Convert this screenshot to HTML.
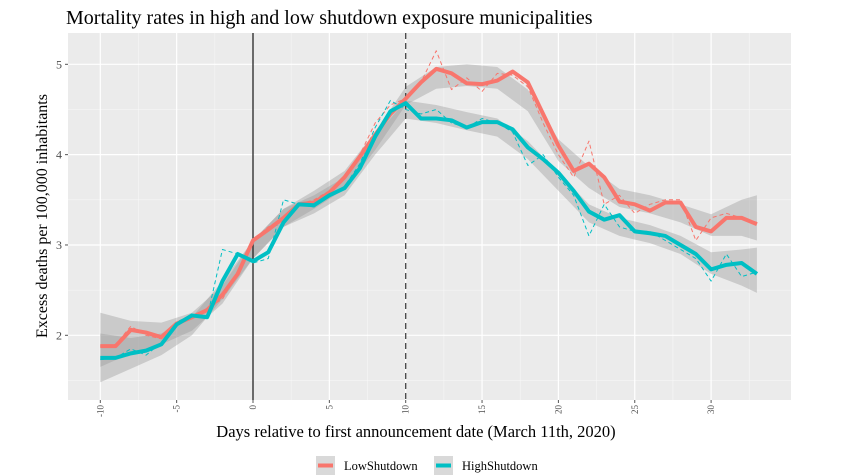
<!DOCTYPE html>
<html><head><meta charset="utf-8"><style>
body{margin:0;background:#fff;}
svg{display:block;font-family:"Liberation Serif",serif;}
</style></head><body>
<svg id="chart" width="848" height="476">
<text x="66" y="24" font-size="20" fill="#000">Mortality rates in high and low shutdown exposure municipalities</text>
<rect x="68" y="33" width="723" height="367" fill="#ebebeb"/>
<g id="grid"></g><g id="ribbons"></g><g id="lines"></g><g id="axes"></g>
<text x="416" y="437" font-size="16.5" text-anchor="middle">Days relative to first announcement date (March 11th, 2020)</text>
<text transform="translate(47,216) rotate(-90)" font-size="16" text-anchor="middle">Excess deaths per 100,000 inhabitants</text>
<g>
<g><rect x="316" y="456" width="19" height="19" fill="#d9d9d9"/><line x1="318" y1="465.5" x2="333" y2="465.5" stroke="#f8766d" stroke-width="4"/><text x="344" y="470" font-size="12.5">LowShutdown</text></g>
<g><rect x="434" y="456" width="19" height="19" fill="#d9d9d9"/><line x1="436" y1="465.5" x2="451" y2="465.5" stroke="#00bfc4" stroke-width="4"/><text x="462" y="470" font-size="12.5">HighShutdown</text></g>
</g>
</svg>
<script>
const days=[-10,-9,-8,-7,-6,-5,-4,-3,-2,-1,0,1,2,3,4,5,6,7,8,9,10,11,12,13,14,15,16,17,18,19,20,21,22,23,24,25,26,27,28,29,30,31,32,33];
const lowSmooth=[1.88,1.88,2.06,2.03,1.98,2.13,2.2,2.28,2.45,2.68,3.05,3.17,3.3,3.45,3.47,3.58,3.75,3.98,4.22,4.45,4.62,4.8,4.95,4.9,4.79,4.78,4.82,4.92,4.8,4.45,4.1,3.82,3.9,3.75,3.48,3.45,3.38,3.47,3.47,3.2,3.15,3.3,3.3,3.23];
const highSmooth=[1.75,1.75,1.8,1.83,1.9,2.12,2.22,2.2,2.6,2.9,2.82,2.92,3.25,3.45,3.44,3.55,3.63,3.85,4.2,4.48,4.57,4.4,4.4,4.38,4.3,4.36,4.36,4.28,4.08,3.95,3.8,3.6,3.37,3.28,3.33,3.15,3.13,3.1,3.0,2.9,2.73,2.78,2.8,2.68];
const lowRaw=[1.88,1.9,2.1,2.0,1.96,2.15,2.2,2.3,2.4,2.7,3.05,3.2,3.3,3.45,3.5,3.6,3.75,4.0,4.35,4.55,4.62,4.8,5.15,4.72,4.85,4.7,4.9,4.88,4.75,4.35,4.0,3.75,4.15,3.45,3.55,3.35,3.45,3.5,3.5,3.05,3.3,3.35,3.3,3.25];
const highRaw=[1.73,1.75,1.85,1.78,1.92,2.15,2.22,2.2,2.95,2.9,2.8,2.85,3.5,3.45,3.42,3.55,3.65,3.9,4.3,4.6,4.5,4.45,4.5,4.35,4.3,4.4,4.35,4.25,3.88,4.0,3.75,3.55,3.1,3.45,3.2,3.15,3.15,3.05,2.95,2.85,2.6,2.9,2.65,2.7];
const ribbonDays=[-10,-8,-6,-4,-2,0,2,4,6,8,10,12,14,16,18,20,22,24,26,28,30,32,33];
const lowFit=[1.95,1.98,2.02,2.15,2.45,2.95,3.3,3.5,3.72,4.15,4.65,4.85,4.88,4.85,4.6,4.05,3.75,3.52,3.45,3.35,3.22,3.3,3.3];
const lowHalf=[0.3,0.18,0.12,0.1,0.1,0.1,0.1,0.1,0.1,0.1,0.1,0.12,0.12,0.12,0.12,0.12,0.12,0.1,0.1,0.1,0.12,0.2,0.25];
const highFit=[1.75,1.8,1.9,2.1,2.5,2.95,3.3,3.45,3.65,4.1,4.5,4.45,4.37,4.3,4.05,3.7,3.35,3.2,3.12,3.0,2.8,2.75,2.72];
const highHalf=[0.27,0.17,0.12,0.1,0.1,0.1,0.1,0.1,0.1,0.1,0.1,0.1,0.1,0.1,0.1,0.1,0.1,0.1,0.1,0.1,0.12,0.2,0.25];
const xMajor=[-10,-5,0,5,10,15,20,25,30];
const xTickLabels=["-10","-5","0","5","10","15","20","25","30"];
const yMajor=[2,3,4,5];
const yTickLabels=["2","3","4","5"];
const vLines=[0,10];

const X=d=>253+15.27*d, Y=v=>335.3-90.33*(v-2);
const NS="http://www.w3.org/2000/svg";
function mk(tag,attrs,parent){const e=document.createElementNS(NS,tag);for(const k in attrs)e.setAttribute(k,attrs[k]);parent.appendChild(e);return e;}
const grid=document.getElementById('grid'),rib=document.getElementById('ribbons'),lines=document.getElementById('lines'),axes=document.getElementById('axes');
xMajor.forEach(d=>{const g=mk('line',{x1:X(d+2.5),x2:X(d+2.5),y1:33,y2:400,stroke:'#f7f7f7','stroke-width':0.6},grid);
});
[1.5,2.5,3.5,4.5].forEach(v=>{const g=mk('line',{x1:68,x2:791,y1:Y(v),y2:Y(v),stroke:'#f7f7f7','stroke-width':0.6},grid);
});
xMajor.forEach((d,i)=>{const g=mk('line',{x1:X(d),x2:X(d),y1:33,y2:400,stroke:'#fff','stroke-width':1.2},grid);

const t=mk('line',{x1:X(d),x2:X(d),y1:400,y2:403,stroke:'#555'},axes);

const l=mk('text',{transform:`translate(${X(d)+3},405) rotate(-90)`,'font-size':9,'text-anchor':'end',fill:'#4d4d4d'},axes);
l.textContent=xTickLabels[i];
});
yMajor.forEach((v,i)=>{const g=mk('line',{x1:68,x2:791,y1:Y(v),y2:Y(v),stroke:'#fff','stroke-width':1.2},grid);

const t=mk('line',{x1:65,x2:68,y1:Y(v),y2:Y(v),stroke:'#555'},axes);

const l=mk('text',{x:62,y:Y(v)+4,'font-size':12,'text-anchor':'end',fill:'#4d4d4d'},axes);
l.textContent=yTickLabels[i];
});
function ribbon(fit,half,name){
  let up=ribbonDays.map((d,i)=>`${X(d)},${Y(fit[i]+half[i])}`);
  let lo=ribbonDays.map((d,i)=>`${X(d)},${Y(fit[i]-half[i])}`).reverse();
  const p=mk('polygon',{points:up.concat(lo).join(' '),fill:'#999','fill-opacity':0.4},rib);
  }
ribbon(lowFit,lowHalf,'low-confidence-band');
ribbon(highFit,highHalf,'high-confidence-band');
vLines.forEach((d,i)=>{const l=mk('line',{x1:X(d),x2:X(d),y1:33,y2:400,stroke:i?'#444':'#222','stroke-width':1.3,'stroke-dasharray':i?'6,4':'none'},lines);
});
function path(vals,color,w,dash,name){
  const p=mk('polyline',{points:days.map((d,i)=>`${X(d)},${Y(vals[i])}`).join(' '),fill:'none',stroke:color,'stroke-width':w,'stroke-dasharray':dash,'stroke-linejoin':'round'},lines);
  }
path(lowRaw,'#f8766d',1,'4,3','low-raw-line');
path(highRaw,'#00bfc4',1,'4,3','high-raw-line');
path(lowSmooth,'#f8766d',4,'none','low-smoothed-line');
path(highSmooth,'#00bfc4',4,'none','high-smoothed-line');
</script>
</body></html>
